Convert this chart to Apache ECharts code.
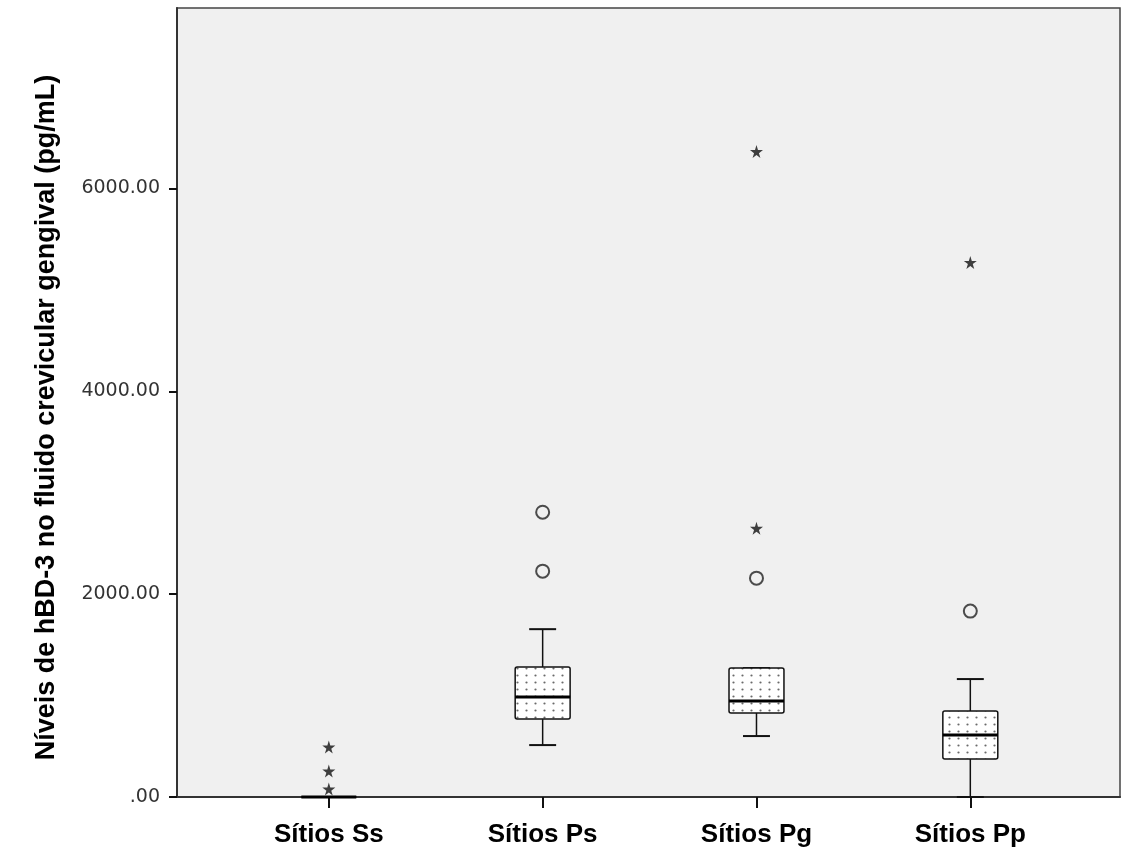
<!DOCTYPE html>
<html>
<head>
<meta charset="utf-8">
<script src="https://cdn.jsdelivr.net/npm/echarts@6/dist/echarts.min.js"></script>
<style>
html,body{margin:0;padding:0;background:#fff;}
#chart{width:1125px;height:855px;}
</style>
</head>
<body>
<div id="chart"></div>
<script>
// ---- data ----
const categories = ['Sítios Ss', 'Sítios Ps', 'Sítios Pg', 'Sítios Pp'];
const whiskerLow  = [0, 512, 601, 0];
const q1          = [0, 768, 828, 374];
const median      = [0, 985, 946, 611];
const q3          = [0, 1281, 1271, 847];
const whiskerHigh = [0, 1655, 1271, 1163];
const circleOutliers = [[1, 2808], [1, 2227], [2, 2158], [3, 1833]];
const starOutliers   = [[0, 493], [0, 256], [0, 79], [2, 6365], [2, 2650], [3, 5271]];
const yTicks = [0, 2000, 4000, 6000];

// ---- style ----
const BOX_W = 0.257;
const CAP_W = 0.126;

const pc = document.createElement('canvas');
pc.width = 9; pc.height = 7;
const pctx = pc.getContext('2d');
pctx.fillStyle = '#ffffff';
pctx.fillRect(0, 0, 9, 7);
pctx.fillStyle = '#6a6a6a';
pctx.beginPath();
pctx.arc(4.5, 3.5, 1.1, 0, Math.PI * 2);
pctx.fill();

const boxData = categories.map((c, i) => [i, whiskerLow[i], q1[i], median[i], q3[i], whiskerHigh[i]]);

function renderBox(params, api) {
  const x = api.value(0);
  const pLow = api.coord([x, api.value(1)]);
  const pQ1 = api.coord([x, api.value(2)]);
  const pMed = api.coord([x, api.value(3)]);
  const pQ3 = api.coord([x, api.value(4)]);
  const pHigh = api.coord([x, api.value(5)]);
  const bw = api.size([BOX_W, 0])[0];
  const cw = api.size([CAP_W, 0])[0];
  const cx = pMed[0];
  const line = '#111';
  const children = [];
  children.push({type: 'line', shape: {x1: cx, y1: pQ3[1], x2: cx, y2: pHigh[1]}, style: {stroke: line, lineWidth: 1.5}});
  children.push({type: 'line', shape: {x1: cx, y1: pQ1[1], x2: cx, y2: pLow[1]}, style: {stroke: line, lineWidth: 1.5}});
  children.push({type: 'line', shape: {x1: cx - cw / 2, y1: pHigh[1], x2: cx + cw / 2, y2: pHigh[1]}, style: {stroke: line, lineWidth: 2}});
  children.push({type: 'line', shape: {x1: cx - cw / 2, y1: pLow[1], x2: cx + cw / 2, y2: pLow[1]}, style: {stroke: line, lineWidth: 2}});
  children.push({type: 'rect', shape: {x: cx - bw / 2, y: pQ3[1], width: bw, height: pQ1[1] - pQ3[1], r: 2},
    style: {fill: {image: pc, repeat: 'repeat'}, stroke: line, lineWidth: 1.5}});
  children.push({type: 'line', shape: {x1: cx - bw / 2, y1: pMed[1], x2: cx + bw / 2, y2: pMed[1]}, style: {stroke: '#000', lineWidth: 3}});
  return {type: 'group', children: children};
}

const starPath = 'path://M50,0 L61,35 L98,35 L68,57 L79,91 L50,70 L21,91 L32,57 L2,35 L39,35 Z';

const chart = echarts.init(document.getElementById('chart'), null, {renderer: 'canvas'});
chart.setOption({
  animation: false,
  backgroundColor: '#ffffff',
  grid: {
    left: 177, right: 5, top: 8, bottom: 58,
    show: true, backgroundColor: '#f0f0f0', borderColor: '#444', borderWidth: 1.5
  },
  xAxis: {
    type: 'value',
    min: -0.71, max: 3.70,
    splitLine: {show: false},
    axisLine: {show: true, onZero: false, lineStyle: {color: '#333', width: 2}},
    axisTick: {show: true, customValues: [0, 1, 2, 3], length: 11, lineStyle: {color: '#111', width: 2}},
    axisLabel: {
      customValues: [0, 1, 2, 3],
      formatter: v => categories[Math.round(v)] || '',
      color: '#000', fontFamily: 'Liberation Sans, Arial, sans-serif', fontWeight: 'bold', fontSize: 26, margin: 25
    }
  },
  yAxis: {
    type: 'value',
    min: 0, max: 7780,
    splitLine: {show: false},
    axisLine: {show: true, onZero: false, lineStyle: {color: '#333', width: 2}},
    axisTick: {show: true, customValues: yTicks, length: 8, lineStyle: {color: '#111', width: 2}},
    axisLabel: {
      customValues: yTicks,
      formatter: v => v === 0 ? '.00' : v.toFixed(2),
      color: '#333', fontFamily: 'DejaVu Sans, Verdana, sans-serif', fontSize: 19, margin: 17
    },
    name: 'Níveis de hBD-3 no fluido crevicular gengival (pg/mL)',
    nameLocation: 'middle',
    nameGap: 117,
    nameTextStyle: {color: '#000', fontFamily: 'Liberation Sans, Arial, sans-serif', fontWeight: 'bold', fontSize: 27, padding: [0, 30, 0, 0]}
  },
  series: [
    {
      type: 'custom',
      renderItem: renderBox,
      data: boxData,
      encode: {x: 0, y: [1, 2, 3, 4, 5]},
      z: 2
    },
    {
      type: 'scatter',
      data: circleOutliers,
      symbol: 'circle',
      symbolSize: 13,
      itemStyle: {color: 'rgba(0,0,0,0)', borderColor: '#222', borderWidth: 2},
      z: 3
    },
    {
      type: 'scatter',
      data: starOutliers,
      symbol: starPath,
      symbolSize: 13,
      itemStyle: {color: '#111'},
      z: 3
    }
  ]
});
</script>
</body>
</html>
